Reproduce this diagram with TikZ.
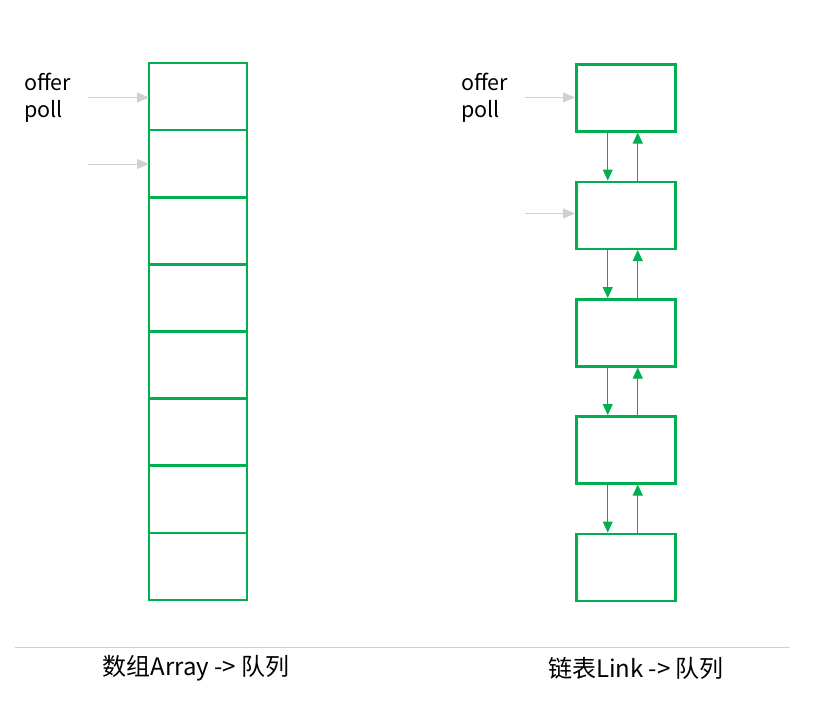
\documentclass[tikz,border=0pt]{standalone}
\usepackage{fontspec}
\setmainfont{Noto Sans CJK SC}
\usetikzlibrary{arrows.meta}
\definecolor{qgreen}{HTML}{00B050}
\definecolor{qgray}{HTML}{D0D0D0}
\begin{document}
\begin{tikzpicture}[x=1pt,y=-1pt,
  cell/.style={draw=qgreen,line width=2.5pt,minimum width=98pt,minimum height=67pt,inner sep=0pt,outer sep=0pt,anchor=north west},
  box/.style={draw=qgreen,line width=2.5pt,minimum width=99pt,minimum height=67pt,inner sep=0pt,anchor=north west},
  link/.style={draw=qgreen,line width=1pt,-{Triangle[length=11pt,width=10pt]}},
  ptr/.style={draw=qgray,line width=1pt,-{Triangle[length=12pt,width=10pt]}},
  lbl/.style={font=\fontsize{21.5}{25}\selectfont,anchor=west,inner sep=0pt},
  captext/.style={font=\fontsize{24}{28}\selectfont,inner sep=0pt}]
\useasboundingbox (0,0) rectangle (817,726);
% array cells
\foreach \i [evaluate=\i as \yy using {63+(\i-1)*67.125}] in {1,...,8}
  \node[cell] (c\i) at (149,\yy) {};
% linked boxes
\node[box] (b1) at (575,63) {};
\node[box] (b2) at (575,180.5) {};
\node[box] (b3) at (575,298) {};
\node[box] (b4) at (575,415) {};
\node[box] (b5) at (575,532.5) {};
\foreach \i/\j in {1/2,2/3,3/4,4/5}{
  \draw[link] ([xshift=-18pt]b\i.south) -- ([xshift=-18pt]b\j.north);
  \draw[link] ([xshift=12pt]b\j.north) -- ([xshift=12pt]b\i.south);
}
% labels
\node[lbl] (o1) at (24,82) {offer};
\node[lbl] (p1) at (24,111) {poll};
\node[lbl] (o2) at (461,82) {offer};
\node[lbl] (p2) at (461,111) {poll};
% pointer arrows
\coordinate (s1) at (88,97.5);
\coordinate (s2) at (88,164);
\coordinate (s3) at (525,97.5);
\coordinate (s4) at (525,213.5);
\draw[ptr] (s1) -- (s1 -| c1.west);
\draw[ptr] (s2) -- (s2 -| c2.west);
\draw[ptr] (s3) -- (s3 -| b1.west);
\draw[ptr] (s4) -- (s4 -| b2.west);
% separator
\coordinate (l1) at (15,647);
\coordinate (l2) at (790,647);
\draw[qgray,line width=1pt] (l1) -- (l2);
% captions
\node[captext] (t1) at (196,668) {数组Array -> 队列};
\node[captext] (t2) at (636,668) {链表Link -> 队列};
\end{tikzpicture}
\end{document}
